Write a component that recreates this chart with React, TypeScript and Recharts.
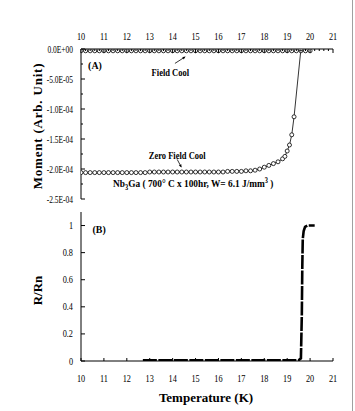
import React from 'react';
import { ComposedChart, Line, XAxis, YAxis, ReferenceDot, ReferenceLine } from 'recharts';

const SERIF = '"Liberation Serif", "Times New Roman", serif';

// ---- tick labels ----
const tempTicks = [10, 11, 12, 13, 14, 15, 16, 17, 18, 19, 20, 21];
const momentTicks = [0, -5e-5, -1e-4, -1.5e-4, -2e-4, -2.5e-4];
const momentLabels = ['0.0E+00', '-5.0E-05', '-1.0E-04', '-1.5E-04', '-2.0E-04', '-2.5E-04'];
const momentMinor = [-2.5e-5, -7.5e-5, -1.25e-4, -1.75e-4, -2.25e-4];
const ratioTicks = [0, 0.2, 0.4, 0.6, 0.8, 1];
const ratioLabels = ['0', '0.2', '0.4', '0.6', '0.8', '1'];

// ---- Field Cool (panel A) ----
const fcTemp = [10.0, 10.2, 10.4, 10.6, 10.8, 11.0, 11.2, 11.4, 11.6, 11.8, 12.0, 12.2, 12.4, 12.6, 12.8,
  13.0, 13.2, 13.4, 13.6, 13.8, 14.0, 14.2, 14.4, 14.6, 14.8, 15.0, 15.2, 15.4, 15.6, 15.8,
  16.0, 16.2, 16.4, 16.6, 16.8, 17.0, 17.2, 17.4, 17.6, 17.8, 18.0, 18.2, 18.4, 18.6, 18.8,
  19.0, 19.2, 19.4, 19.6, 19.8, 20.0];
const fcMoment = [-3e-6, -3e-6, -3e-6, -3e-6, -3e-6, -3e-6, -3e-6, -3e-6, -3e-6, -3e-6, -3e-6, -3e-6, -3e-6, -3e-6, -3e-6,
  -3e-6, -3e-6, -3e-6, -3e-6, -3e-6, -3e-6, -3e-6, -3e-6, -3e-6, -3e-6, -3e-6, -3e-6, -3e-6, -3e-6, -3e-6,
  -3e-6, -3e-6, -3e-6, -3e-6, -3e-6, -3e-6, -3e-6, -3e-6, -3e-6, -3e-6, -3e-6, -3e-6, -3e-6, -3e-6, -3e-6,
  -3e-6, -3e-6, -3e-6, -3e-6, -3e-6, -3e-6];

// ---- Zero Field Cool (panel A) ----
const zfcTemp = [10.0, 10.2, 10.4, 10.6, 10.8, 11.0, 11.2, 11.4, 11.6, 11.8, 12.0, 12.2, 12.4, 12.6, 12.8,
  13.0, 13.2, 13.4, 13.6, 13.8, 14.0, 14.2, 14.4, 14.6, 14.8, 15.0, 15.2, 15.4, 15.6, 15.8,
  16.0, 16.2, 16.4, 16.6, 16.8, 17.0, 17.2, 17.4, 17.6, 17.8, 18.0, 18.2, 18.4, 18.6, 18.8,
  18.9, 19.0, 19.1, 19.2, 19.3, 19.6];
const zfcMoment = [-2.06e-4, -2.06e-4, -2.06e-4, -2.06e-4, -2.06e-4, -2.06e-4, -2.06e-4, -2.06e-4, -2.06e-4, -2.06e-4,
  -2.06e-4, -2.06e-4, -2.06e-4, -2.06e-4, -2.06e-4, -2.05e-4, -2.05e-4, -2.05e-4, -2.05e-4, -2.05e-4,
  -2.05e-4, -2.05e-4, -2.05e-4, -2.05e-4, -2.05e-4, -2.05e-4, -2.05e-4, -2.05e-4, -2.05e-4, -2.05e-4,
  -2.05e-4, -2.05e-4, -2.04e-4, -2.04e-4, -2.04e-4, -2.04e-4, -2.03e-4, -2.03e-4, -2.02e-4, -2.0e-4,
  -1.97e-4, -1.94e-4, -1.91e-4, -1.88e-4, -1.83e-4, -1.79e-4, -1.70e-4, -1.60e-4, -1.43e-4, -1.13e-4, 0];

// ---- Resistance (panel B) ----
const rTemp = [12.7, 13.0, 13.5, 14.0, 14.5, 15.0, 15.5, 16.0, 16.5, 17.0, 17.5, 18.0, 18.5, 19.0, 19.5,
  19.6, 19.64, 19.66, 19.68, 19.72, 19.78, 19.88, 20.0, 20.2];
const rRatio = [0.006, 0.006, 0.006, 0.006, 0.006, 0.006, 0.006, 0.006, 0.006, 0.006, 0.006, 0.006, 0.006, 0.006, 0.006,
  0.02, 0.35, 0.7, 0.9, 0.96, 0.99, 1.0, 1.0, 1.0];

const fcData = fcTemp.map((t, i) => ({ t, m: fcMoment[i] }));
const zfcData = zfcTemp.map((t, i) => ({ t, m: zfcMoment[i] }));
const rData = rTemp.map((t, i) => ({ t, r: rRatio[i] }));

const minorTempTicks = tempTicks.slice(0, -1).flatMap((t) => [0.2, 0.4, 0.6, 0.8].map((f) => t + f));

const findIdx = (arr: number[], v: number) => arr.findIndex((a) => Math.abs(a - v) < 1e-9);

function LeftTick(props: any) {
  const { x, y, payload, ticks, labels, sx = 0.7 } = props;
  const idx = findIdx(ticks, payload.value);
  const major = idx >= 0;
  return (
    <g>
      <line x1={x} y1={y} x2={x + (major ? 4 : 2)} y2={y} stroke="#000" strokeWidth={1} />
      {major && (
        <text
          transform={`translate(${x - 8},${y + 3.5}) scale(${sx},1)`}
          textAnchor="end"
          fontFamily={SERIF}
          fontSize={11}
          fill="#000"
        >
          {labels[idx]}
        </text>
      )}
    </g>
  );
}

function TopTick(props: any) {
  const { x, y, payload } = props;
  const idx = findIdx(tempTicks, payload.value);
  const major = idx >= 0;
  return (
    <g>
      <line x1={x} y1={y} x2={x} y2={y + (major ? 4 : 2)} stroke="#000" strokeWidth={1} />
      {major && (
        <text
          transform={`translate(${x},${y - 9}) scale(0.75,1)`}
          textAnchor="middle"
          fontFamily={SERIF}
          fontSize={11}
          fill="#000"
        >
          {String(tempTicks[idx])}
        </text>
      )}
    </g>
  );
}

function BottomTick(props: any) {
  const { x, y, payload } = props;
  const idx = findIdx(tempTicks, payload.value);
  return (
    <g>
      <line x1={x} y1={y} x2={x} y2={y - 3} stroke="#000" strokeWidth={1} />
      <text
        transform={`translate(${x},${y + 21}) scale(0.75,1)`}
        textAnchor="middle"
        fontFamily={SERIF}
        fontSize={11}
        fill="#000"
      >
        {String(tempTicks[idx])}
      </text>
    </g>
  );
}

function Ann(props: any) {
  const { cx, cy, text, size = 10, weight = 'bold', anchor = 'middle', sx = 0.85 } = props;
  return (
    <text
      transform={`translate(${cx},${cy + size * 0.35}) scale(${sx},1)`}
      textAnchor={anchor}
      fontFamily={SERIF}
      fontSize={size}
      fontWeight={weight}
      fill="#000"
    >
      {text}
    </text>
  );
}

function Arrow(props: any) {
  const { x1, y1, x2, y2 } = props;
  if ([x1, y1, x2, y2].some((v) => typeof v !== 'number' || isNaN(v))) return null;
  const ang = Math.atan2(y2 - y1, x2 - x1);
  const h = 3;
  const ax = x2 - h * Math.cos(ang - 0.5);
  const ay = y2 - h * Math.sin(ang - 0.5);
  const bx = x2 - h * Math.cos(ang + 0.5);
  const by = y2 - h * Math.sin(ang + 0.5);
  return (
    <g>
      <line x1={x1} y1={y1} x2={x2} y2={y2} stroke="#000" strokeWidth={0.8} />
      <polygon points={`${x2},${y2} ${ax},${ay} ${bx},${by}`} fill="#000" />
    </g>
  );
}

function NbLabel(props: any) {
  const { cx, cy } = props;
  return (
    <text
      transform={`translate(${cx},${cy + 3.8}) scale(0.85,1)`}
      textAnchor="start"
      fontFamily={SERIF}
      fontSize={11}
      fontWeight="bold"
      fill="#000"
    >
      <tspan>Nb</tspan>
      <tspan dy={3} fontSize={7.5}>3</tspan>
      <tspan dy={-3}>Ga ( 700° C x 100hr,  W= 6.1 J/mm</tspan>
      <tspan dy={-4} fontSize={7.5}>3</tspan>
      <tspan dy={4}> )</tspan>
    </text>
  );
}

export default function App() {
  return (
    <div style={{ position: 'absolute', left: 0, top: 0, width: 355, height: 411, background: '#fff' }}>
      <div style={{ position: 'absolute', left: 352, top: 0, width: 1, height: 411, background: '#a0a0a0' }} />
      <div style={{ position: 'absolute', left: 0, top: 0 }}>
        <ComposedChart
          width={355}
          height={205}
          margin={{ top: 29, right: 22, bottom: 6, left: 0 }}
          style={{ fontFamily: SERIF }}
        >
          <XAxis
            xAxisId="t"
            orientation="top"
            type="number"
            dataKey="t"
            domain={[10, 21]}
            allowDataOverflow
            ticks={[...tempTicks, ...minorTempTicks]}
            interval={0}
            height={20}
            tickSize={0}
            tickMargin={0}
            tickLine={false}
            tick={<TopTick />}
            axisLine={{ stroke: '#000', strokeWidth: 1 }}
          />
          <XAxis
            xAxisId="b"
            orientation="bottom"
            type="number"
            domain={[10, 21]}
            height={0}
            tick={false}
            tickLine={false}
            axisLine={{ stroke: '#000', strokeWidth: 1 }}
          />
          <YAxis
            yAxisId="l"
            type="number"
            domain={[-2.5e-4, 0]}
            allowDataOverflow
            ticks={[...momentTicks, ...momentMinor]}
            interval={0}
            width={81}
            tickSize={0}
            tickMargin={0}
            tickLine={false}
            tick={<LeftTick ticks={momentTicks} labels={momentLabels} sx={0.68} />}
            axisLine={{ stroke: '#000', strokeWidth: 1 }}
            label={(p: any) => {
              const vb = p.viewBox || { x: 0, y: 49, width: 81, height: 150 };
              const cx = 37;
              const cy = vb.y + vb.height / 2 + 2;
              return (
                <text
                  transform={`translate(${cx},${cy}) rotate(-90)`}
                  textAnchor="middle"
                  dominantBaseline="central"
                  fontFamily={SERIF}
                  fontSize={13}
                  fontWeight="bold"
                  letterSpacing={0.8}
                  fill="#000"
                >
                  Moment (Arb. Unit)
                </text>
              );
            }}
          />
          <YAxis
            yAxisId="r"
            orientation="right"
            type="number"
            domain={[-2.5e-4, 0]}
            width={0}
            tick={false}
            tickLine={false}
            axisLine={{ stroke: '#000', strokeWidth: 1 }}
          />
          <Line
            xAxisId="t"
            yAxisId="l"
            data={fcData}
            dataKey="m"
            stroke="#000"
            strokeWidth={0.8}
            dot={{ r: 2, fill: '#fff', stroke: '#000', strokeWidth: 0.8 }}
            isAnimationActive={false}
          />
          <Line
            xAxisId="t"
            yAxisId="l"
            data={zfcData}
            dataKey="m"
            stroke="#000"
            strokeWidth={0.8}
            dot={{ r: 2, fill: '#fff', stroke: '#000', strokeWidth: 0.8 }}
            isAnimationActive={false}
          />
          <ReferenceDot xAxisId="t" yAxisId="l" x={10.61} y={-2.67e-5} r={1}
            shape={(p: any) => <Ann {...p} text="(A)" size={11} sx={0.9} />} />
          <ReferenceDot xAxisId="t" yAxisId="l" x={13.9} y={-3.85e-5} r={1}
            shape={(p: any) => <Ann {...p} text="Field Cool" />} />
          <ReferenceLine xAxisId="t" yAxisId="l"
            segment={[{ x: 14.1, y: -2.4e-5 }, { x: 14.55, y: -1.3e-5 }]}
            shape={(p: any) => <Arrow {...p} />} />
          <ReferenceDot xAxisId="t" yAxisId="l" x={14.2} y={-1.77e-4} r={1}
            shape={(p: any) => <Ann {...p} text="Zero Field Cool" />} />
          <ReferenceLine xAxisId="t" yAxisId="l"
            segment={[{ x: 14.2, y: -1.84e-4 }, { x: 14.38, y: -1.97e-4 }]}
            shape={(p: any) => <Arrow {...p} />} />
          <ReferenceDot xAxisId="t" yAxisId="l" x={11.4} y={-2.235e-4} r={1}
            shape={(p: any) => <NbLabel {...p} />} />
        </ComposedChart>
      </div>
      <div style={{ position: 'absolute', left: 0, top: 205 }}>
        <ComposedChart
          width={355}
          height={206}
          margin={{ top: 7, right: 22, bottom: 0, left: 0 }}
          style={{ fontFamily: SERIF }}
        >
          <XAxis
            xAxisId="top"
            orientation="top"
            type="number"
            domain={[10, 21]}
            height={0}
            tick={false}
            tickLine={false}
            axisLine={{ stroke: '#000', strokeWidth: 1 }}
          />
          <XAxis
            xAxisId="b"
            orientation="bottom"
            type="number"
            dataKey="t"
            domain={[10, 21]}
            allowDataOverflow
            ticks={tempTicks}
            interval={0}
            height={50}
            tickSize={0}
            tickMargin={0}
            tickLine={false}
            tick={<BottomTick />}
            axisLine={{ stroke: '#000', strokeWidth: 1 }}
            label={(p: any) => {
              const vb = p.viewBox || { x: 81, y: 156, width: 252, height: 50 };
              return (
                <text
                  x={vb.x + vb.width / 2 - 1}
                  y={vb.y + 41}
                  textAnchor="middle"
                  fontFamily={SERIF}
                  fontSize={13}
                  fontWeight="bold"
                  fill="#000"
                >
                  Temperature (K)
                </text>
              );
            }}
          />
          <YAxis
            yAxisId="l"
            type="number"
            domain={[0, 1.1]}
            allowDataOverflow
            ticks={ratioTicks}
            interval={0}
            width={81}
            tickSize={0}
            tickMargin={0}
            tickLine={false}
            tick={<LeftTick ticks={ratioTicks} labels={ratioLabels} sx={0.75} />}
            axisLine={{ stroke: '#000', strokeWidth: 1 }}
            label={(p: any) => {
              const vb = p.viewBox || { x: 0, y: 7, width: 81, height: 149 };
              const cx = 37;
              const cy = vb.y + vb.height / 2 + 4;
              return (
                <text
                  transform={`translate(${cx},${cy}) rotate(-90)`}
                  textAnchor="middle"
                  dominantBaseline="central"
                  fontFamily={SERIF}
                  fontSize={13}
                  fontWeight="bold"
                  fill="#000"
                >
                  R/Rn
                </text>
              );
            }}
          />
          <YAxis
            yAxisId="r"
            orientation="right"
            type="number"
            domain={[0, 1.1]}
            width={0}
            tick={false}
            tickLine={false}
            axisLine={{ stroke: '#000', strokeWidth: 1 }}
          />
          <Line
            xAxisId="b"
            yAxisId="l"
            data={rData}
            dataKey="r"
            stroke="#000"
            strokeWidth={2.6}
            strokeDasharray="14 1.5"
            dot={false}
            isAnimationActive={false}
          />
          <ReferenceDot xAxisId="b" yAxisId="l" x={10.79} y={0.97} r={1}
            shape={(p: any) => <Ann {...p} text="(B)" size={11} sx={0.9} />} />
        </ComposedChart>
      </div>
    </div>
  );
}
